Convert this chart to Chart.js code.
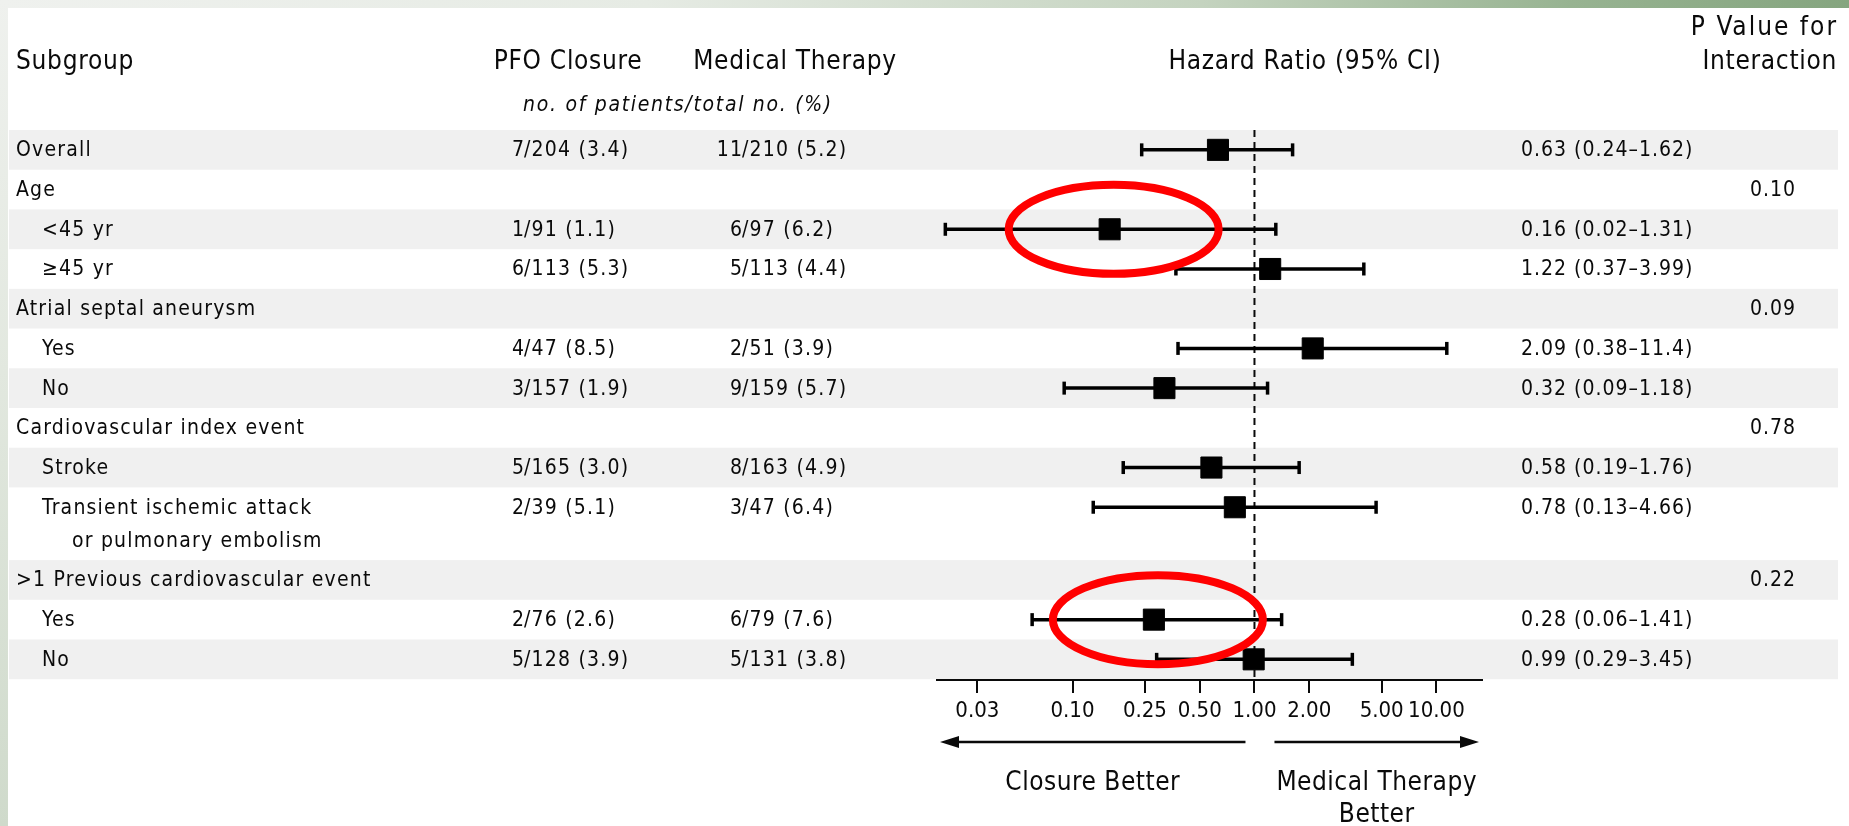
<!DOCTYPE html>
<html>
<head>
<meta charset="utf-8">
<title>Subgroup analysis – PFO closure vs medical therapy</title>
<script src="https://cdn.jsdelivr.net/npm/chart.js@4.4.1/dist/chart.umd.min.js"></script>
<style>
  html, body { margin: 0; padding: 0; width: 1849px; height: 826px; overflow: hidden; background: #ffffff; }
  #topStrip { position: absolute; left: 0; top: 0; width: 1849px; height: 8px;
    background: linear-gradient(to right, #eff1ee 0%, #e6ebe4 35%, #c4d3bf 65%, #97b391 85%, #85a57f 100%); }
  #leftStrip { position: absolute; left: 0; top: 0; width: 8px; height: 826px;
    background: linear-gradient(to bottom, #eff1ee 0%, #e2e8df 45%, #cfdacb 100%); }
  canvas { position: absolute; left: 0; top: 0; }
</style>
</head>
<body>
<div id="topStrip"></div>
<div id="leftStrip"></div>
<canvas id="forest" width="1849" height="826"></canvas>
<script>
// ---- data ---------------------------------------------------------------
const subgroups = [
  'Overall', 'Age', '<45 yr', '\u226545 yr', 'Atrial septal aneurysm', 'Yes', 'No',
  'Cardiovascular index event', 'Stroke',
  ['Transient ischemic attack', 'or pulmonary embolism'],
  '>1 Previous cardiovascular event', 'Yes', 'No'
];
const indentLevel = [0, 0, 1, 1, 0, 1, 1, 0, 1, 1, 0, 1, 1];
// vertical slot of each row (the two-line row pushes the rest down)
const rowPosition = [0, 1, 2, 3, 4, 5, 6, 7, 8, 9, 10.83, 11.83, 12.83];
const closureEvents = ['7/204 (3.4)', null, '1/91 (1.1)', '6/113 (5.3)', null, '4/47 (8.5)', '3/157 (1.9)',
  null, '5/165 (3.0)', '2/39 (5.1)', null, '2/76 (2.6)', '5/128 (3.9)'];
const medicalEvents = ['11/210 (5.2)', null, '6/97 (6.2)', '5/113 (4.4)', null, '2/51 (3.9)', '9/159 (5.7)',
  null, '8/163 (4.9)', '3/47 (6.4)', null, '6/79 (7.6)', '5/131 (3.8)'];
const hazardRatio = [0.63, null, 0.16, 1.22, null, 2.09, 0.32, null, 0.58, 0.78, null, 0.28, 0.99];
const ciLower     = [0.24, null, 0.02, 0.37, null, 0.38, 0.09, null, 0.19, 0.13, null, 0.06, 0.29];
const ciUpper     = [1.62, null, 1.31, 3.99, null, 11.4, 1.18, null, 1.76, 4.66, null, 1.41, 3.45];
const pInteraction = [null, '0.10', null, null, '0.09', null, null, '0.78', null, null, '0.22', null, null];
const tickValues = [0.03, 0.10, 0.25, 0.50, 1, 2, 5, 10];
const tickLabels = ['0.03', '0.10', '0.25', '0.50', '1.00', '2.00', '5.00', '10.00'];
const referenceValue = 1;
const highlightRows = [2, 11];

// ---- presentation --------------------------------------------------------
const FONT = '"DejaVu Sans Condensed", "DejaVu Sans", sans-serif';
const INK = '#0a0a0a';
const BAND = '#f0f0f0';
const BODY = 21, HEAD = 26;
const col = {
  subgroup: 16, indent: 42, wrap: 72,
  closureSlash: 524, medicalSlash: 742,
  hrText: 1521, pValue: 1750,
  bandLeft: 9, bandRight: 1838
};

function fmt(v) { return v >= 10 ? v.toFixed(1) : v.toFixed(2); }

function text(ctx, s, x, y, size, align, opts) {
  opts = opts || {};
  ctx.font = (opts.italic ? 'italic ' : '') + size + 'px ' + FONT;
  ctx.letterSpacing = (opts.spacing != null ? opts.spacing : 1.2) + 'px';
  ctx.textAlign = align;
  ctx.textBaseline = 'middle';
  ctx.fillStyle = INK;
  ctx.fillText(s, x, y);
}

// numerator to the left of the slash column, remainder to the right
function slashText(ctx, s, slashX, y) {
  const k = s.indexOf('/');
  text(ctx, s.slice(0, k), slashX + 1.2, y, BODY, 'right');
  text(ctx, s.slice(k), slashX, y, BODY, 'left');
}

const tablePlugin = {
  id: 'forestTable',
  beforeLayout(chart) { chart.ctx.letterSpacing = '0px'; },
  beforeDraw(chart) {
    const ctx = chart.ctx, y = chart.scales.y;
    ctx.save();
    ctx.fillStyle = BAND;
    rowPosition.forEach((p, i) => {
      if (i % 2 !== 0) return;
      const t = y.getPixelForValue(p - 0.5), b = y.getPixelForValue(p + 0.5);
      ctx.fillRect(col.bandLeft, t, col.bandRight - col.bandLeft, b - t);
    });
    ctx.restore();
    ctx.letterSpacing = '0px';
  },
  afterDraw(chart) {
    const ctx = chart.ctx, x = chart.scales.x, y = chart.scales.y, area = chart.chartArea;
    ctx.save();

    // column headers
    const hs = { spacing: 0.7 };
    text(ctx, 'Subgroup', col.subgroup, 62, HEAD, 'left', hs);
    text(ctx, 'PFO Closure', 568, 62, HEAD, 'center', hs);
    text(ctx, 'Medical Therapy', 795, 62, HEAD, 'center', hs);
    text(ctx, 'Hazard Ratio (95% CI)', 1305, 62, HEAD, 'center', hs);
    text(ctx, 'P Value for', 1838, 28, HEAD, 'right', { spacing: 2.0 });
    text(ctx, 'Interaction', 1837, 62, HEAD, 'right', hs);
    text(ctx, 'no. of patients/total no. (%)', 678, 106, BODY, 'center', { italic: true, spacing: 1.7 });

    // table rows
    const unit = y.getPixelForValue(1) - y.getPixelForValue(0);
    subgroups.forEach((label, i) => {
      const py = y.getPixelForValue(rowPosition[i]) + 1;
      const lx = indentLevel[i] ? col.indent : col.subgroup;
      if (Array.isArray(label)) {
        text(ctx, label[0], lx, py, BODY, 'left');
        text(ctx, label[1], col.wrap, py + 0.83 * unit, BODY, 'left');
      } else {
        text(ctx, label, lx, py, BODY, 'left');
      }
      if (closureEvents[i]) slashText(ctx, closureEvents[i], col.closureSlash, py);
      if (medicalEvents[i]) slashText(ctx, medicalEvents[i], col.medicalSlash, py);
      if (hazardRatio[i] != null) {
        const s = fmt(hazardRatio[i]) + ' (' + fmt(ciLower[i]) + '\u2013' + fmt(ciUpper[i]) + ')';
        text(ctx, s, col.hrText, py, BODY, 'left', { spacing: 1.0 });
      }
      if (pInteraction[i]) text(ctx, pInteraction[i], col.pValue, py, BODY, 'left', { spacing: 1.0 });
    });

    // direction arrows under the axis
    const ref = x.getPixelForValue(referenceValue);
    const ay = x.top + 62;
    const leftA = [area.left + 3, ref - 9];
    const rightA = [ref + 20, area.right - 3];
    ctx.strokeStyle = INK; ctx.fillStyle = INK; ctx.lineWidth = 2.5;
    ctx.beginPath();
    ctx.moveTo(leftA[0] + 12, ay); ctx.lineTo(leftA[1], ay);
    ctx.moveTo(rightA[0], ay); ctx.lineTo(rightA[1] - 12, ay);
    ctx.stroke();
    ctx.beginPath();
    ctx.moveTo(leftA[0], ay); ctx.lineTo(leftA[0] + 19, ay - 6); ctx.lineTo(leftA[0] + 19, ay + 6); ctx.closePath();
    ctx.moveTo(rightA[1], ay); ctx.lineTo(rightA[1] - 19, ay - 6); ctx.lineTo(rightA[1] - 19, ay + 6); ctx.closePath();
    ctx.fill();
    const ls = { spacing: 0.5 };
    text(ctx, 'Closure Better', (leftA[0] + leftA[1]) / 2, ay + 41, HEAD, 'center', ls);
    text(ctx, 'Medical Therapy', (rightA[0] + rightA[1]) / 2, ay + 41, HEAD, 'center', ls);
    text(ctx, 'Better', (rightA[0] + rightA[1]) / 2, ay + 73, HEAD, 'center', ls);

    // red highlight rings
    ctx.strokeStyle = '#ff0000';
    ctx.lineWidth = 8;
    highlightRows.forEach(r => {
      const cx = x.getPixelForValue(hazardRatio[r]) + 4;
      const cy = y.getPixelForValue(rowPosition[r]);
      ctx.beginPath();
      ctx.ellipse(cx, cy, 105, 44.5, 0, 0, Math.PI * 2);
      ctx.stroke();
    });
    ctx.restore();
  }
};

// ---- datasets ------------------------------------------------------------
const rows = hazardRatio.map((v, i) => i).filter(i => hazardRatio[i] != null);
const datasets = [];
datasets.push({
  label: 'estimate',
  data: rows.map(i => ({ x: hazardRatio[i], y: rowPosition[i] })),
  pointStyle: 'rect', pointRadius: 14.9, pointBackgroundColor: '#000', pointBorderColor: '#000',
  pointBorderWidth: 1, order: 0
});
datasets.push({
  label: 'ci caps',
  data: rows.flatMap(i => [{ x: ciLower[i], y: rowPosition[i] }, { x: ciUpper[i], y: rowPosition[i] }]),
  pointStyle: 'line', rotation: 90, pointRadius: 6.5, pointBorderColor: '#000', pointBorderWidth: 3.5, order: 1
});
rows.forEach(i => {
  datasets.push({
    label: 'ci ' + i,
    data: [{ x: ciLower[i], y: rowPosition[i] }, { x: ciUpper[i], y: rowPosition[i] }],
    showLine: true, borderColor: '#000', borderWidth: 3.5, pointRadius: 0, order: 2
  });
});
datasets.push({
  label: 'no effect',
  data: [{ x: referenceValue, y: -0.5 }, { x: referenceValue, y: 13.35 }],
  showLine: true, borderColor: INK, borderWidth: 2, borderDash: [7, 5], pointRadius: 0, order: 3
});

new Chart(document.getElementById('forest'), {
  type: 'scatter',
  data: { datasets },
  plugins: [tablePlugin],
  options: {
    responsive: false,
    animation: false,
    devicePixelRatio: 1,
    events: [],
    layout: { padding: { left: 937, right: 367, top: 130, bottom: 0 } },
    plugins: { legend: { display: false }, tooltip: { enabled: false } },
    scales: {
      x: {
        type: 'logarithmic',
        position: 'bottom',
        min: 0.018,
        max: 17.8,
        afterBuildTicks: s => { s.ticks = tickValues.map(v => ({ value: v })); },
        afterFit: s => { s.height = 146; },
        ticks: {
          autoSkip: false, maxRotation: 0, minRotation: 0, padding: 5, color: INK,
          font: { family: FONT, size: 22 },
          callback: (v, i) => tickLabels[i]
        },
        grid: { display: true, drawOnChartArea: false, drawTicks: true, tickLength: 13, color: INK, lineWidth: 2 },
        border: { display: true, color: INK, width: 2 }
      },
      y: { type: 'linear', display: false, reverse: true, min: -0.5, max: 13.35 }
    }
  }
});
</script>
</body>
</html>
